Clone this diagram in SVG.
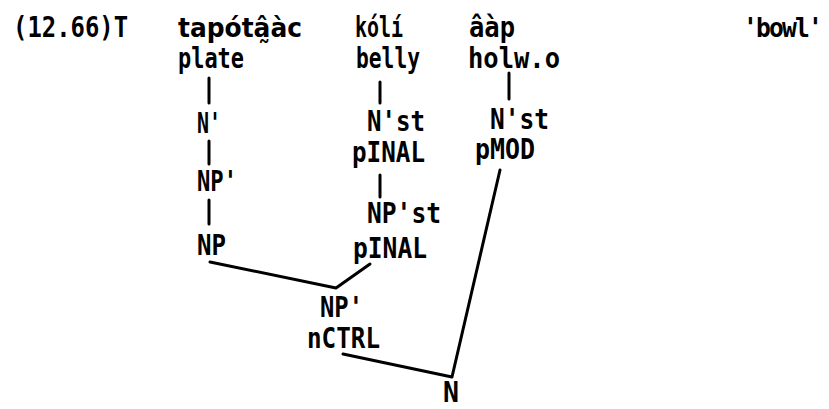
<svg xmlns="http://www.w3.org/2000/svg" width="829" height="409" viewBox="0 0 829 409">
<style>
text{font-family:"DejaVu Sans Mono","Liberation Mono",monospace;font-weight:bold;font-size:28px;fill:#000}
.s{font-family:"DejaVu Sans","Liberation Sans",sans-serif;font-size:27px}
.c line,.c polyline{stroke:#000;stroke-width:3;fill:none;stroke-linecap:round;stroke-linejoin:round}
</style>
<rect width="829" height="409" fill="#fff"/>
<g id="header">
<text x="13" y="37" textLength="115" lengthAdjust="spacingAndGlyphs">(12.66)T</text>
<text x="743" y="37" style="font-size:27px;letter-spacing:-2px" textLength="78" lengthAdjust="spacingAndGlyphs">'bowl'</text>
</g>
<g id="w1">
<text class="s" x="178" y="37" textLength="124" lengthAdjust="spacingAndGlyphs">tapótâ̰àc</text>
<text x="178" y="68" textLength="66" lengthAdjust="spacingAndGlyphs">plate</text>
</g>
<g id="w2">
<text x="355" y="37" textLength="48" lengthAdjust="spacingAndGlyphs">kólí</text>
<text x="356" y="68" textLength="64" lengthAdjust="spacingAndGlyphs">belly</text>
</g>
<g id="w3">
<text x="469" y="37" textLength="46" lengthAdjust="spacingAndGlyphs">âàp</text>
<text x="468" y="68" textLength="92" lengthAdjust="spacingAndGlyphs">holw.o</text>
</g>
<g id="a1"><text x="197" y="133" textLength="24" lengthAdjust="spacingAndGlyphs">N'</text></g>
<g id="a2"><text x="197" y="191" textLength="40" lengthAdjust="spacingAndGlyphs">NP'</text></g>
<g id="a3"><text x="197" y="255" textLength="29" lengthAdjust="spacingAndGlyphs">NP</text></g>
<g id="b1">
<text x="367" y="131" textLength="58" lengthAdjust="spacingAndGlyphs">N'st</text>
<text x="352" y="162" textLength="73" lengthAdjust="spacingAndGlyphs">pINAL</text>
</g>
<g id="b2">
<text x="367" y="223" textLength="74" lengthAdjust="spacingAndGlyphs">NP'st</text>
<text x="353" y="258" textLength="74" lengthAdjust="spacingAndGlyphs">pINAL</text>
</g>
<g id="c1">
<text x="490" y="129" textLength="59" lengthAdjust="spacingAndGlyphs">N'st</text>
<text x="475" y="159" textLength="60" lengthAdjust="spacingAndGlyphs">pMOD</text>
</g>
<g id="m1">
<text x="320" y="317" textLength="43" lengthAdjust="spacingAndGlyphs">NP'</text>
<text x="307" y="348" textLength="73" lengthAdjust="spacingAndGlyphs">nCTRL</text>
</g>
<g id="root"><text x="443" y="402" textLength="16" lengthAdjust="spacingAndGlyphs">N</text></g>
<g id="connectors" class="c">
<line x1="209" y1="78" x2="209" y2="103"/>
<line x1="209" y1="141" x2="209" y2="164"/>
<line x1="209" y1="200" x2="209" y2="224"/>
<line x1="380" y1="82" x2="380" y2="103"/>
<line x1="380" y1="175" x2="380" y2="197"/>
<line x1="509" y1="73" x2="509" y2="99"/>
<polyline points="210,262 336,288 370,264"/>
<polyline points="343,354 452,377 500,170"/>
</g>
</svg>
